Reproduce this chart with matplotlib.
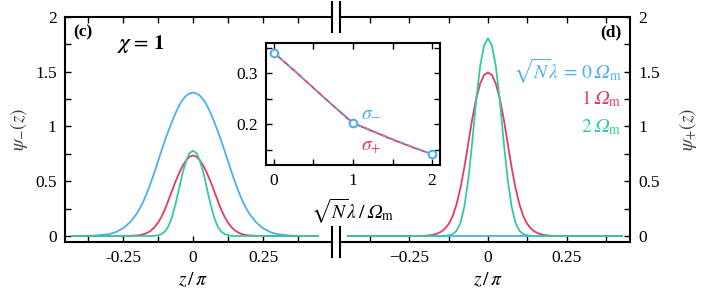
import matplotlib
matplotlib.use("Agg")
import matplotlib.pyplot as plt
from matplotlib.lines import Line2D
from matplotlib.ticker import MultipleLocator
from matplotlib.transforms import blended_transform_factory

plt.rcParams['font.family'] = 'serif'
plt.rcParams['font.serif'] = ['Liberation Serif', 'DejaVu Serif']
plt.rcParams['mathtext.fontset'] = 'stix'

OM = '\U0001D6FA'  # italic capital omega

# panel (c): psi_-(z), z in units of pi
z_left = [-0.43, -0.4, -0.35, -0.3, -0.275, -0.25, -0.225, -0.2, -0.1875, -0.175, -0.1625, -0.15,
          -0.1375, -0.125, -0.1125, -0.1, -0.0875, -0.075, -0.0625, -0.05, -0.0375, -0.025, -0.0125,
          0.0,
          0.0125, 0.025, 0.0375, 0.05, 0.0625, 0.075, 0.0875, 0.1, 0.1125, 0.125, 0.1375,
          0.15, 0.1625, 0.175, 0.1875, 0.2, 0.225, 0.25, 0.275, 0.3, 0.35, 0.4, 0.445]
psi_minus_0 = [0.0, 0.0, 0.003, 0.017, 0.036, 0.07, 0.125, 0.207, 0.263, 0.329, 0.405, 0.491,
               0.584, 0.681, 0.779, 0.874, 0.963, 1.045, 1.122, 1.19, 1.243, 1.28, 1.302,
               1.31,
               1.302, 1.28, 1.243, 1.19, 1.122, 1.045, 0.963, 0.874, 0.779, 0.681, 0.584,
               0.491, 0.405, 0.329, 0.263, 0.207, 0.125, 0.07, 0.036, 0.017, 0.003, 0.0, 0.0]
psi_minus_1 = [0.0, 0.0, 0.0, 0.0, 0.0, 0.0, 0.001, 0.005, 0.009, 0.017, 0.03, 0.05,
               0.08, 0.121, 0.176, 0.245, 0.327, 0.413, 0.497, 0.572, 0.638, 0.69, 0.724,
               0.735,
               0.724, 0.69, 0.638, 0.572, 0.497, 0.413, 0.327, 0.245, 0.176, 0.121, 0.08,
               0.05, 0.03, 0.017, 0.009, 0.005, 0.001, 0.0, 0.0, 0.0, 0.0, 0.0, 0.0]
psi_minus_2 = [0.0, 0.0, 0.0, 0.0, 0.0, 0.0, 0.0, 0.0, 0.0, 0.0, 0.0, 0.0,
               0.002, 0.007, 0.018, 0.042, 0.09, 0.172, 0.29, 0.43, 0.572, 0.682, 0.757,
               0.778,
               0.757, 0.682, 0.572, 0.43, 0.29, 0.172, 0.09, 0.042, 0.018, 0.007, 0.002,
               0.0, 0.0, 0.0, 0.0, 0.0, 0.0, 0.0, 0.0, 0.0, 0.0, 0.0, 0.0]

# panel (d): psi_+(z)
z_right = [-0.445, -0.4, -0.35, -0.3, -0.275, -0.25, -0.225, -0.2, -0.1875, -0.175, -0.1625, -0.15,
           -0.1375, -0.125, -0.1125, -0.1, -0.0875, -0.075, -0.0625, -0.05, -0.0375, -0.025, -0.0125,
           0.0,
           0.0125, 0.025, 0.0375, 0.05, 0.0625, 0.075, 0.0875, 0.1, 0.1125, 0.125, 0.1375,
           0.15, 0.1625, 0.175, 0.1875, 0.2, 0.225, 0.25, 0.275, 0.3, 0.35, 0.4, 0.427]
psi_plus_0 = [0.0] * len(z_right)
psi_plus_1 = [0.0, 0.0, 0.0, 0.0, 0.0, 0.0, 0.0, 0.002, 0.005, 0.011, 0.021, 0.038,
              0.065, 0.11, 0.18, 0.29, 0.44, 0.63, 0.85, 1.07, 1.255, 1.39, 1.47,
              1.494,
              1.47, 1.39, 1.255, 1.07, 0.85, 0.63, 0.44, 0.29, 0.18, 0.11, 0.065,
              0.038, 0.021, 0.011, 0.005, 0.002, 0.0, 0.0, 0.0, 0.0, 0.0, 0.0, 0.0]
psi_plus_2 = [0.0, 0.0, 0.0, 0.0, 0.0, 0.0, 0.0, 0.0, 0.0, 0.0, 0.0, 0.0,
              0.002, 0.006, 0.017, 0.048, 0.12, 0.27, 0.52, 0.86, 1.24, 1.55, 1.74,
              1.805,
              1.74, 1.55, 1.24, 0.86, 0.52, 0.27, 0.12, 0.048, 0.017, 0.006, 0.002,
              0.0, 0.0, 0.0, 0.0, 0.0, 0.0, 0.0, 0.0, 0.0, 0.0, 0.0, 0.0]

# inset: widths vs coupling
coupling = [0, 0.25, 0.5, 0.75, 1, 1.25, 1.5, 1.75, 2]
sigma_plus = [0.340, 0.306, 0.271, 0.236, 0.202, 0.186, 0.170, 0.155, 0.141]
sigma_minus = [0.340, 0.306, 0.271, 0.236, 0.203, 0.187, 0.171, 0.156, 0.141]
coupling_pts = [0, 1, 2]
sigma_minus_pts = [0.340, 0.203, 0.141]

blue = '#4FAEF0'
red = '#E63A5E'
cyan = '#35C8A8'
colors = [blue, red, cyan]

fig = plt.figure(figsize=(7.05, 3.0), dpi=100)
ax1 = fig.add_axes([65/705, 1-242/300, 267/705, 225/300])
ax2 = fig.add_axes([340/705, 1-242/300, 290/705, 225/300])

for ys, c in zip([psi_minus_0, psi_minus_1, psi_minus_2], colors):
    ax1.plot(z_left, ys, color=c, lw=1.3)
for ys, c in zip([psi_plus_0, psi_plus_1, psi_plus_2], colors):
    ax2.plot(z_right, ys, color=c, lw=1.3)

ax1.set_xlim(-0.457, 0.496)
ax2.set_xlim(-0.471, 0.452)
for ax in (ax1, ax2):
    ax.set_ylim(-0.055, 2)
    ax.set_xticks([-0.25, 0, 0.25])
    ax.set_yticks([0, 0.5, 1, 1.5, 2])
    ax.set_yticklabels(['0', '0.5', '1', '1.5', '2'])
    ax.xaxis.set_minor_locator(MultipleLocator(0.125))
    ax.yaxis.set_minor_locator(MultipleLocator(0.25))
    ax.tick_params(which='both', direction='in', length=4.5, width=1, top=True, labelsize=12.5)
    ax.tick_params(axis='x', pad=6)
    for s in ax.spines.values():
        s.set_linewidth(1.5)
    tr = blended_transform_factory(ax.transData, ax.transAxes)
    ax.text(0, -0.17, r'$z\,/\,\pi$', transform=tr, ha='center', va='center', fontsize=14)

ax1.set_xticklabels(['-0.25', '0', '0.25'])
ax1.spines['right'].set_visible(False)
ax1.tick_params(which='both', right=False, left=True)
ax1.tick_params(axis='y', pad=6)

ax2.set_xticklabels(['\u22120.25', '0', '0.25'])
ax2.spines['left'].set_visible(False)
ax2.yaxis.tick_right()
ax2.tick_params(which='both', left=False, right=True, labelleft=False, labelright=True)
ax2.tick_params(axis='y', pad=6)

# break marks
for x in (332/705, 340/705):
    for yc in (17, 242):
        fig.add_artist(Line2D([x, x], [1-(yc-15)/300, 1-(yc+15)/300], color='black', lw=1.5))

# panel text
ax1.text(-0.427, 1.86, '(c)', fontweight='bold', fontsize=12.5, va='center')
ax1.text(-0.272, 1.75, r'$\boldsymbol{\chi}\,=\,\mathbf{1}$', fontsize=15, va='center')
ax2.text(0.425, 1.86, '(d)', fontweight='bold', fontsize=12.5, va='center', ha='right')
ax2.text(0.425, 1.5, r'$\sqrt{N}\lambda\, =\, 0\,' + OM + r'_\mathrm{m}$', color=blue, fontsize=14, ha='right', va='center')
ax2.text(0.425, 1.25, r'$1\,' + OM + r'_\mathrm{m}$', color=red, fontsize=14, ha='right', va='center')
ax2.text(0.425, 0.99, r'$2\,' + OM + r'_\mathrm{m}$', color=cyan, fontsize=14, ha='right', va='center')

fig.text(19/705, 1-129/300, r'$\psi_{-}(z)$', rotation=90, ha='center', va='center', fontsize=14, color='#444444')
fig.text(688/705, 1-129/300, r'$\psi_{+}(z)$', rotation=90, ha='center', va='center', fontsize=14, color='#444444')

# inset
ax_in = fig.add_axes([266/705, 1-165/300, 174/705, 122/300])
ax_in.plot(coupling, sigma_plus, color=red, lw=1.3)
ax_in.plot(coupling, sigma_minus, color=blue, lw=1.1, dashes=(3, 3))
ax_in.plot(coupling_pts, sigma_minus_pts, 'o', color=blue, mfc='white', mew=1.5, ms=5.5, ls='none')
ax_in.set_xlim(-0.1, 2.1)
ax_in.set_ylim(0.12, 0.359)
ax_in.set_xticks([0, 1, 2])
ax_in.set_xticklabels(['0', '1', '2'])
ax_in.set_yticks([0.2, 0.3])
ax_in.set_yticklabels(['0.2', '0.3'])
ax_in.xaxis.set_minor_locator(MultipleLocator(0.5))
ax_in.yaxis.set_minor_locator(MultipleLocator(0.05))
ax_in.tick_params(which='both', direction='in', length=4.5, width=1, top=True, right=True, labelsize=12.5, pad=6)
for s in ax_in.spines.values():
    s.set_linewidth(1.5)
ax_in.text(1.1, 0.2235, r'$\sigma_{-}$', color=blue, fontsize=14, va='center')
ax_in.text(1.1, 0.153, r'$\sigma_{+}$', color=red, fontsize=14, va='center')
ax_in.text(0.5, -0.385, r'$\sqrt{N}\lambda\,/\,' + OM + r'_\mathrm{m}$', transform=ax_in.transAxes,
           ha='center', va='center', fontsize=14)

plt.savefig('out.png', dpi=100)
plt.close()
